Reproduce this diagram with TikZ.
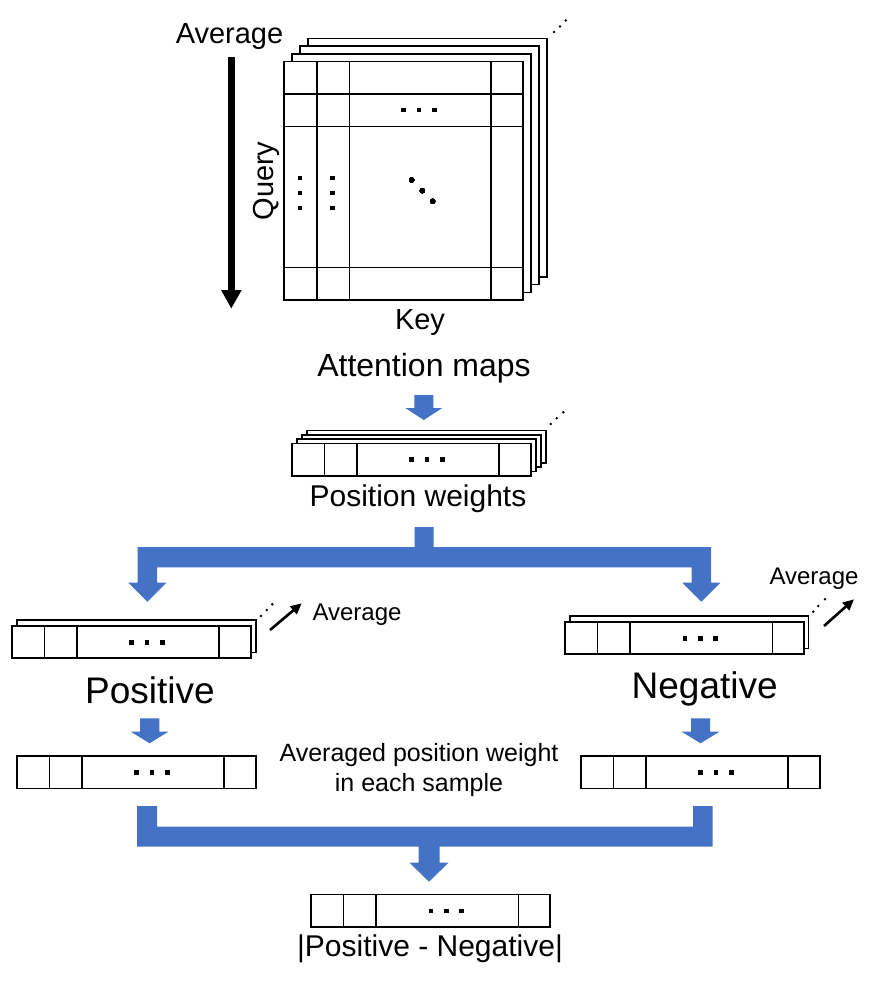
\documentclass[tikz,border=0pt]{standalone}
\usepackage{fontspec}
\setmainfont{Liberation Sans}
\usetikzlibrary{arrows.meta}
\definecolor{oblue}{RGB}{68,114,196}
\newcommand{\fs}[1]{\fontsize{#1}{#1}\selectfont}
\newcommand{\sqdot}[2]{\fill ({#1-2.4},{#2-2.4}) rectangle ({#1+2.4},{#2+2.4});}
\newcommand{\posbar}[2]{%
  \draw[cell] (#1,#2) rectangle ++(239,32.4);
  \draw[thinl] ({#1+32.6},#2) -- ++(0,32.4);
  \draw[thinl] ({#1+65},#2) -- ++(0,32.4);
  \draw[thinl] ({#1+207.3},#2) -- ++(0,32.4);
  \sqdot{#1+120}{#2+16.4}
  \sqdot{#1+135.3}{#2+16.4}
  \sqdot{#1+150.6}{#2+16.4}
}
\begin{document}
\begin{tikzpicture}[x=1pt,y=-1pt,
  cell/.style={draw=black,line width=1.6pt,fill=white},
  thinl/.style={draw=black,line width=1.6pt},
  bluear/.style={fill=oblue},
  lbl/.style={inner sep=0pt,anchor=center},
  avgarrow/.style={line width=2.6pt,-{Triangle[length=11pt,width=10pt]}},
]
\useasboundingbox (0,0) rectangle (885,984);

% ---------- attention map stack ----------
\foreach \k in {3,2,1} {
  \draw[cell] ({284+8*\k},{61.7-7.7*\k}) rectangle ({522.7+8*\k},{300-7.7*\k});
}
\draw[cell] (284,61.7) rectangle (522.7,300);
\draw[thinl] (316.7,61.7)--(316.7,300) (349.3,61.7)--(349.3,300) (490.7,61.7)--(490.7,300)
  (284,94)--(522.7,94) (284,126.7)--(522.7,126.7) (284,267.3)--(522.7,267.3);
\foreach \px/\py in {403.3/110,419/110,434.7/110,300/178,300/193,300/208,
  332.7/178,332.7/193,332.7/208}
  \sqdot{\px}{\py}
\foreach \p in {(411.7,180),(422.3,190.7),(432.7,201.3)} \fill \p circle (2.7);
\foreach \p in {(554,32),(560,26.5),(565.7,20.5)} \fill \p circle (1.4);

% black average arrow
\fill (227.7,57) rectangle (235,291);
\fill (221,290) -- (241.7,290) -- (231.3,308.3) -- cycle;

\node[lbl] (avgtop) at (229.5,37) {\fs{29}Average};
\node[lbl,rotate=90] (query) at (266.5,181) {\fs{29}Query};
\node[lbl] (key) at (420,323) {\fs{29}Key};
\node[lbl] (attn) at (424,368) {\fs{32}Attention maps};

% blue arrow 1
\fill[bluear] (414.3,395) -- (433.3,395) -- (433.3,408) -- (442.3,408) -- (423.8,420)
  -- (405.3,408) -- (414.3,408) -- cycle;

% ---------- position weights stack ----------
\foreach \k in {3,2,1} {
  \draw[cell] ({291.7+5*\k},{443.3-4.3*\k}) rectangle ++(239,32.4);
}
\posbar{291.7}{443.3}
\foreach \p in {(550.7,424),(556.7,418.3),(563.3,412.3)} \fill \p circle (1.4);
\node[lbl] (pw) at (418,499) {\fs{30}Position weights};

% ---------- branching blue connector ----------
\fill[bluear] (414.5,527) -- (433.5,527) -- (433.5,547) -- (711,547) -- (711,582.7)
  -- (720.3,582.7) -- (701.3,601.7) -- (682.3,582.7) -- (691.5,582.7) -- (691.5,567.3)
  -- (157,567.3) -- (157,582.7) -- (166.3,582.7) -- (147.3,601.7) -- (128.3,582.7)
  -- (137.5,582.7) -- (137.5,547) -- (414.5,547) -- cycle;

% ---------- positive ----------
\draw[cell] (16.7,620) rectangle ++(239,32.4);
\posbar{11.7}{625.7}
\foreach \p in {(261,616),(266.7,610),(272.3,604.3)} \fill \p circle (1.4);
\draw[avgarrow] (270,630) -- (301.7,603.3);
\node[lbl,anchor=west] (avgpos) at (312.3,615) {\fs{24}Average};
\node[lbl] (pos) at (150,690) {\fs{37}Positive};

% ---------- negative ----------
\draw[cell] (570,616) rectangle ++(238.3,32.4);
\posbar{565}{621.7}
\foreach \p in {(813.3,611.7),(818.3,606),(825,599.3)} \fill \p circle (1.4);
\draw[avgarrow] (824,626) -- (854,599.3);
\node[lbl] (avgneg) at (814,578.3) {\fs{24}Average};
\node[lbl] (neg) at (704.7,688.5) {\fs{37}Negative};

% small blue arrows
\fill[bluear] (140,718.3) -- (159.3,718.3) -- (159.3,731.7) -- (168.3,731.7) -- (149.6,743.3)
  -- (130.9,731.7) -- (140,731.7) -- cycle;
\fill[bluear] (691,718.3) -- (710,718.3) -- (710,731.7) -- (719.3,731.7) -- (700.5,743.3)
  -- (681.7,731.7) -- (691,731.7) -- cycle;

% averaged bars
\posbar{16.7}{756}
\posbar{580.7}{756}
\node[lbl,align=center] (avgtxt) at (419,770) {\fs{25}Averaged position weight\\[5pt]\fs{25}in each sample};

% lower blue connector
\fill[bluear] (137,806) -- (157,806) -- (157,826.7) -- (693,826.7) -- (693,806) -- (712.5,806)
  -- (712.5,846.7) -- (439.5,846.7) -- (439.5,862.7) -- (448.5,862.7) -- (429,881.7)
  -- (409.5,862.7) -- (418.5,862.7) -- (418.5,846.7) -- (137,846.7) -- cycle;

% final bar
\posbar{311}{894.5}
\node[lbl] (diff) at (430,948.5) {\fs{30}|Positive - Negative|};
\end{tikzpicture}
\end{document}
